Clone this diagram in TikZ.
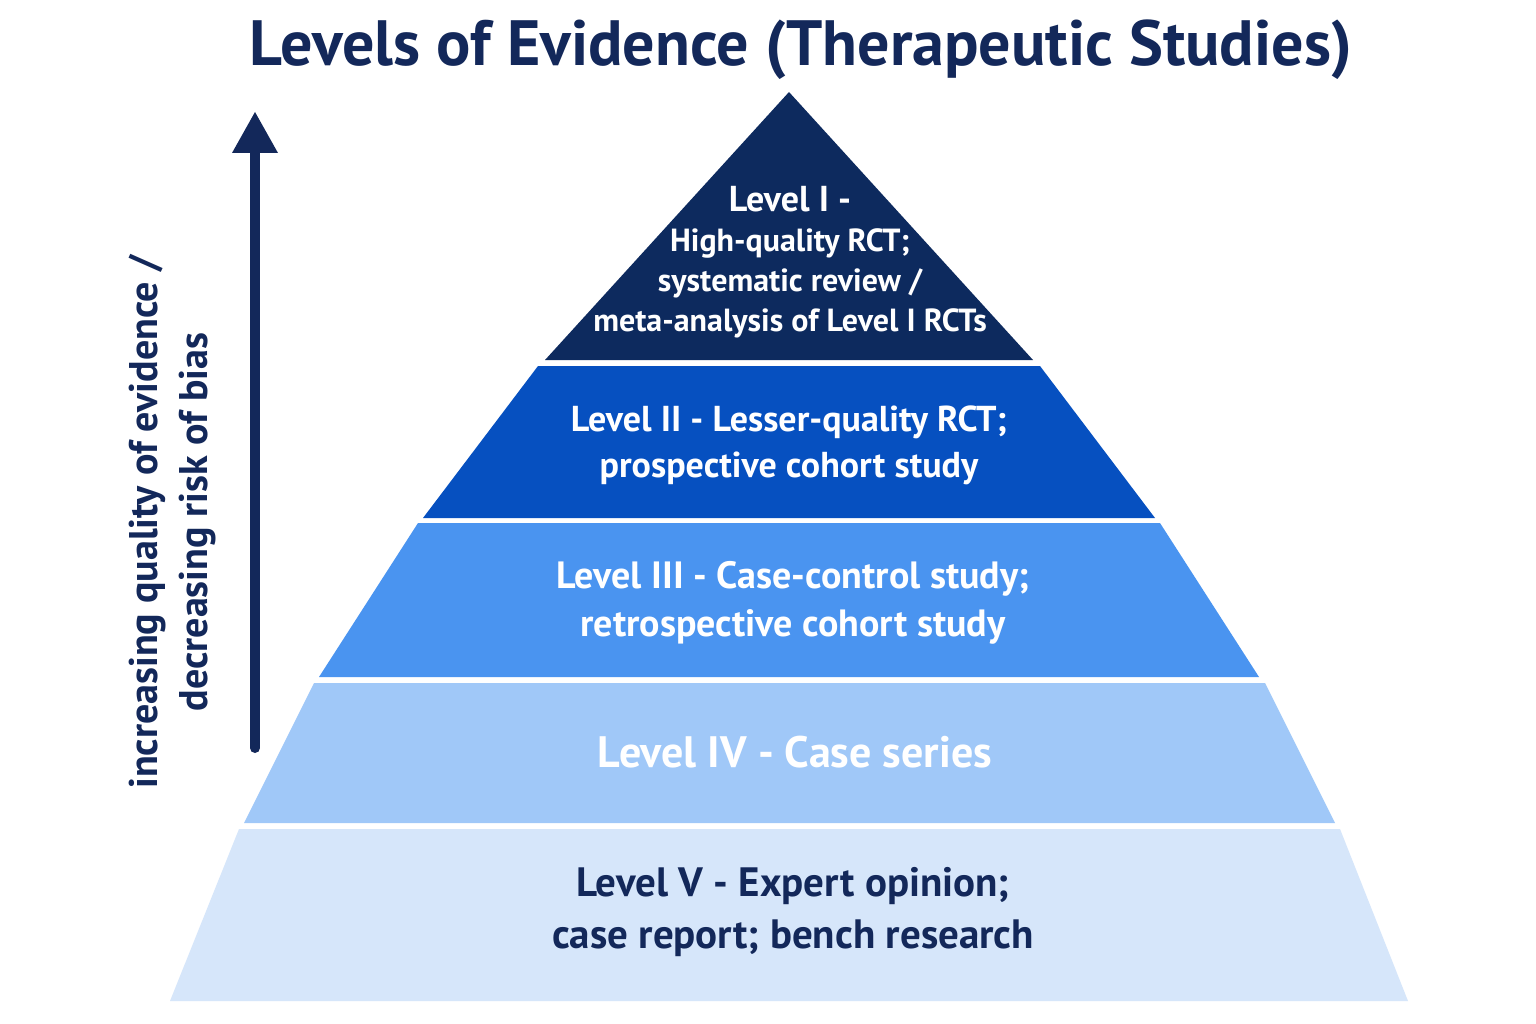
\documentclass[tikz,border=0pt]{standalone}
\usepackage{fontspec}
\setmainfont{PT Sans}
\definecolor{navy}{HTML}{13285A}
\definecolor{cI}{HTML}{0D2A5E}
\definecolor{cII}{HTML}{0650C0}
\definecolor{cIII}{HTML}{4A94F0}
\definecolor{cIV}{HTML}{A0C8F8}
\definecolor{cV}{HTML}{D6E6FA}
\tikzset{lvl/.style={font=\bfseries, align=center}}
\begin{document}
\begin{tikzpicture}[x=1pt,y=-1pt]
\useasboundingbox (0,0) rectangle (1536,1024);
\fill[white] (0,0) rectangle (1536,1024);
\fill[cI] (789,92) -- (1033,360) -- (545,360) -- cycle;
\fill[cII] (538,366) -- (1040,366) -- (1155,518) -- (423,518) -- cycle;
\fill[cIII] (418,523) -- (1160,523) -- (1259,677) -- (319,677) -- cycle;
\fill[cIV] (314,683) -- (1265,683) -- (1335,823) -- (244,823) -- cycle;
\fill[cV] (239,829) -- (1340,829) -- (1408,1001) -- (170,1001) -- cycle;
\node[lvl, text=navy, font=\fontsize{64}{70}\selectfont\bfseries] (title) at (801,50) {Levels of Evidence (Therapeutic Studies)};
\node[lvl, text=white, font=\fontsize{32}{40}\selectfont\bfseries] (l1) at (790,262) {{\fontsize{36}{40}\selectfont Level I -}\\High-quality RCT;\\systematic review /\\meta-analysis of Level I RCTs};
\node[lvl, text=white, font=\fontsize{36}{46}\selectfont\bfseries] (l2) at (789,445) {Level II - Lesser-quality RCT;\\prospective cohort study};
\node[lvl, text=white, font=\fontsize{38}{48}\selectfont\bfseries] (l3) at (793,603) {Level III - Case-control study;\\retrospective cohort study};
\node[lvl, text=white, font=\fontsize{44}{48}\selectfont\bfseries] (l4) at (795,752) {Level IV - Case series};
\node[lvl, text=navy, font=\fontsize{41}{52}\selectfont\bfseries] (l5) at (793,912) {Level V - Expert opinion;\\case report; bench research};
\coordinate (a0) at (255,748);
\coordinate (a1) at (255,112);
\draw[navy, line width=10pt, line cap=round] (a0) -- (255,150);
\fill[navy] (a1) -- (278,153) -- (232,153) -- cycle;
\node[lvl, text=navy, rotate=90, font=\fontsize{40}{50}\selectfont\bfseries] (side) at (172,522) {increasing quality of evidence /\\decreasing risk of bias};
\end{tikzpicture}
\end{document}
